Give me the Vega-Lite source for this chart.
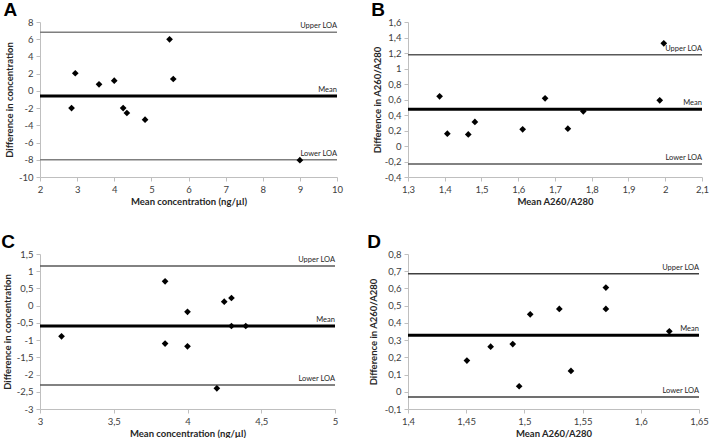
{
  "$schema": "https://vega.github.io/schema/vega-lite/v6.json",
  "padding": {"left": 1, "top": 1, "right": 2, "bottom": 0},
  "datasets": {
    "pA": [
      {"x": 2.85, "y": -2.0}, {"x": 2.95, "y": 2.05}, {"x": 3.59, "y": 0.76}, {"x": 4.0, "y": 1.19},
      {"x": 4.24, "y": -2.0}, {"x": 4.34, "y": -2.57}, {"x": 4.83, "y": -3.34}, {"x": 5.49, "y": 5.99},
      {"x": 5.59, "y": 1.38}, {"x": 9.0, "y": -8.05}
    ],
    "lA": [{"line": "Upper LOA", "value": 6.8}, {"line": "Mean", "value": -0.6}, {"line": "Lower LOA", "value": -8.0}],
    "pB": [
      {"x": 1.386, "y": 0.641}, {"x": 1.407, "y": 0.159}, {"x": 1.464, "y": 0.15}, {"x": 1.482, "y": 0.31},
      {"x": 1.612, "y": 0.215}, {"x": 1.673, "y": 0.615}, {"x": 1.735, "y": 0.224}, {"x": 1.777, "y": 0.447},
      {"x": 1.985, "y": 0.589}, {"x": 1.996, "y": 1.325}
    ],
    "lB": [{"line": "Upper LOA", "value": 1.178}, {"line": "Mean", "value": 0.473}, {"line": "Lower LOA", "value": -0.232}],
    "pC": [
      {"x": 3.146, "y": -0.89}, {"x": 3.848, "y": 0.706}, {"x": 3.848, "y": -1.1}, {"x": 4.0, "y": -0.18},
      {"x": 4.0, "y": -1.18}, {"x": 4.199, "y": -2.4}, {"x": 4.249, "y": 0.116}, {"x": 4.298, "y": 0.222},
      {"x": 4.298, "y": -0.59}, {"x": 4.395, "y": -0.59}
    ],
    "lC": [{"line": "Upper LOA", "value": 1.15}, {"line": "Mean", "value": -0.59}, {"line": "Lower LOA", "value": -2.3}],
    "pD": [
      {"x": 1.4506, "y": 0.181}, {"x": 1.471, "y": 0.262}, {"x": 1.49, "y": 0.277}, {"x": 1.4955, "y": 0.032},
      {"x": 1.505, "y": 0.45}, {"x": 1.53, "y": 0.481}, {"x": 1.54, "y": 0.121}, {"x": 1.57, "y": 0.605},
      {"x": 1.57, "y": 0.481}, {"x": 1.6245, "y": 0.351}
    ],
    "lD": [{"line": "Upper LOA", "value": 0.686}, {"line": "Mean", "value": 0.328}, {"line": "Lower LOA", "value": -0.03}]
  },
  "bounds": "flush",
  "align": {"row": "all", "column": "none"},
  "columns": 2,
  "spacing": {"row": 77, "column": 71},
  "concat": [
    {
      "title": {"text": "A"},
      "width": 297, "height": 155,
      "layer": [
        {"data": {"name": "lA"}, "mark": {"type": "rule"},
         "encoding": {"y": {"field": "value", "type": "quantitative", "scale": {"domain": [-10, 8], "nice": false}},
           "strokeWidth": {"condition": {"test": "datum.line === 'Mean'", "value": 3}, "value": 1.5},
           "color": {"condition": {"test": "datum.line === 'Mean'", "value": "#000000"}, "value": "#7f7f7f"}}},
        {"data": {"name": "pA"}, "mark": {"type": "point", "shape": "diamond", "filled": true, "color": "#000000", "opacity": 1, "size": 45},
         "encoding": {
           "x": {"field": "x", "type": "quantitative", "scale": {"domain": [2, 10], "nice": false}, "title": "Mean concentration (ng/µl)",
             "axis": {"values": [2, 3, 4, 5, 6, 7, 8, 9, 10], "tickCount": 30}},
           "y": {"field": "y", "type": "quantitative", "title": "Difference in concentration",
             "axis": {"values": [-10, -8, -6, -4, -2, 0, 2, 4, 6, 8], "titlePadding": 4, "tickCount": 30}}}},
        {"data": {"name": "lA"}, "mark": {"type": "text", "align": "right", "baseline": "bottom", "dy": -2, "fontSize": 7.5, "font": "Lato", "color": "#262626"},
         "encoding": {"x": {"datum": 10}, "y": {"field": "value", "type": "quantitative"}, "text": {"field": "line"}}}
      ]
    },
    {
      "title": {"text": "B"},
      "width": 294, "height": 155,
      "layer": [
        {"data": {"name": "lB"}, "mark": {"type": "rule"},
         "encoding": {"y": {"field": "value", "type": "quantitative", "scale": {"domain": [-0.4, 1.6], "nice": false}},
           "strokeWidth": {"condition": {"test": "datum.line === 'Mean'", "value": 3}, "value": 1.5},
           "color": {"condition": {"test": "datum.line === 'Mean'", "value": "#000000"}, "value": "#595959"}}},
        {"data": {"name": "pB"}, "mark": {"type": "point", "shape": "diamond", "filled": true, "color": "#000000", "opacity": 1, "size": 45},
         "encoding": {
           "x": {"field": "x", "type": "quantitative", "scale": {"domain": [1.3, 2.1], "nice": false}, "title": "Mean A260/A280",
             "axis": {"values": [1.3, 1.4, 1.5, 1.6, 1.7, 1.8, 1.9, 2, 2.1], "tickCount": 30}},
           "y": {"field": "y", "type": "quantitative", "title": "Difference in A260/A280",
             "axis": {"values": [-0.4, -0.2, 0, 0.2, 0.4, 0.6, 0.8, 1, 1.2, 1.4, 1.6], "titlePadding": 2, "tickCount": 30}}}},
        {"data": {"name": "lB"}, "mark": {"type": "text", "align": "right", "baseline": "bottom", "dy": -2, "fontSize": 7.5, "font": "Lato", "color": "#262626"},
         "encoding": {"x": {"datum": 2.1}, "y": {"field": "value", "type": "quantitative"}, "text": {"field": "line"}}}
      ]
    },
    {
      "title": {"text": "C"},
      "width": 295, "height": 155,
      "layer": [
        {"data": {"name": "lC"}, "mark": {"type": "rule"},
         "encoding": {"y": {"field": "value", "type": "quantitative", "scale": {"domain": [-3, 1.5], "nice": false}},
           "strokeWidth": {"condition": {"test": "datum.line === 'Mean'", "value": 3}, "value": 1.5},
           "color": {"condition": {"test": "datum.line === 'Mean'", "value": "#000000"}, "value": "#595959"}}},
        {"data": {"name": "pC"}, "mark": {"type": "point", "shape": "diamond", "filled": true, "color": "#000000", "opacity": 1, "size": 45},
         "encoding": {
           "x": {"field": "x", "type": "quantitative", "scale": {"domain": [3, 5], "nice": false}, "title": "Mean concentration (ng/µl)",
             "axis": {"values": [3, 3.5, 4, 4.5, 5], "tickCount": 30}},
           "y": {"field": "y", "type": "quantitative", "title": "Difference in concentration",
             "axis": {"values": [-3, -2.5, -2, -1.5, -1, -0.5, 0, 0.5, 1, 1.5], "titlePadding": 4, "tickCount": 30}}}},
        {"data": {"name": "lC"}, "mark": {"type": "text", "align": "right", "baseline": "bottom", "dy": -2, "fontSize": 7.5, "font": "Lato", "color": "#262626"},
         "encoding": {"x": {"datum": 5}, "y": {"field": "value", "type": "quantitative"}, "text": {"field": "line"}}}
      ]
    },
    {
      "title": {"text": "D"},
      "width": 291, "height": 155,
      "layer": [
        {"data": {"name": "lD"}, "mark": {"type": "rule"},
         "encoding": {"y": {"field": "value", "type": "quantitative", "scale": {"domain": [-0.1, 0.8], "nice": false}},
           "strokeWidth": {"condition": {"test": "datum.line === 'Mean'", "value": 3}, "value": 1.5},
           "color": {"condition": {"test": "datum.line === 'Mean'", "value": "#000000"}, "value": "#404040"}}},
        {"data": {"name": "pD"}, "mark": {"type": "point", "shape": "diamond", "filled": true, "color": "#000000", "opacity": 1, "size": 45},
         "encoding": {
           "x": {"field": "x", "type": "quantitative", "scale": {"domain": [1.4, 1.65], "nice": false}, "title": "Mean A260/A280",
             "axis": {"values": [1.4, 1.45, 1.5, 1.55, 1.6, 1.65], "tickCount": 30}},
           "y": {"field": "y", "type": "quantitative", "title": "Difference in A260/A280",
             "axis": {"values": [-0.1, 0, 0.1, 0.2, 0.3, 0.4, 0.5, 0.6, 0.7, 0.8], "titlePadding": 6, "tickCount": 30}}}},
        {"data": {"name": "lD"}, "mark": {"type": "text", "align": "right", "baseline": "bottom", "dy": -2, "fontSize": 7.5, "font": "Lato", "color": "#262626"},
         "encoding": {"x": {"datum": 1.65}, "y": {"field": "value", "type": "quantitative"}, "text": {"field": "line"}}}
      ]
    }
  ],
  "config": {
    "view": {"stroke": null},
    "title": {"anchor": "start", "frame": "bounds", "font": "Liberation Sans", "fontSize": 19, "fontWeight": "bold", "color": "#000000", "offset": -3, "dx": -1},
    "axis": {
      "grid": false,
      "domainColor": "#bfbfbf",
      "tickColor": "#bfbfbf",
      "tickSize": 4,
      "labelColor": "#404040",
      "labelFont": "Lato",
      "labelFontSize": 9.5,
      "labelPadding": 3,
      "titleFont": "Lato",
      "titleFontSize": 9.5,
      "titleFontWeight": "bold",
      "titleColor": "#262626",
      "titlePadding": 3,
      "labelExpr": "replace('' + datum.value, '.', ',')",
      "labelOverlap": false,
      "labelBound": false,
      "labelFlush": false
    }
  }
}
